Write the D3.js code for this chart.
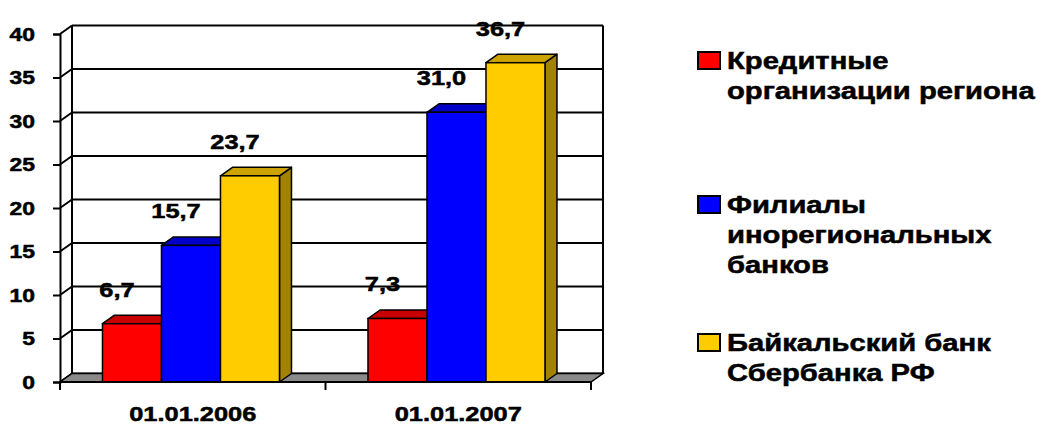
<!DOCTYPE html>
<html>
<head>
<meta charset="utf-8">
<script src="https://cdn.jsdelivr.net/npm/d3@7"></script>
<style>
  html, body { margin: 0; padding: 0; background: #fff; }
  svg { display: block; font-family: "Liberation Sans", Arial, sans-serif; font-weight: bold; }
  svg text { stroke: #000; stroke-width: 0.5px; }
</style>
</head>
<body>
<div id="chart"></div>
<script>
// 3D clustered columns, values per date
const CATEGORIES = ["01.01.2006", "01.01.2007"];
const SERIES = [
  "Кредитные организации региона",
  "Филиалы инорегиональных банков",
  "Байкальский банк Сбербанка РФ",
];
const LEGEND_LINES = [
  ["Кредитные", "организации региона"],
  ["Филиалы", "инорегиональных", "банков"],
  ["Байкальский банк", "Сбербанка РФ"],
];
const VALUES_2006 = [6.7, 15.7, 23.7];
const VALUES_2007 = [7.3, 31.0, 36.7];
const Y_TICKS = [0, 5, 10, 15, 20, 25, 30, 35, 40];

// front / top / side shades for each series
const FACES = [
  { front: "#ff0000", top: "#c80000", side: "#a00000" },
  { front: "#0000ff", top: "#0000c8", side: "#0000a0" },
  { front: "#ffcc00", top: "#cca300", side: "#a38200" },
];

const rows = CATEGORIES.map((c, i) => ({
  cat: c,
  values: [VALUES_2006, VALUES_2007][i],
}));

/* ── Layout ── */
const totalW = 1050, totalH = 425;
const plot = { left: 60, right: 591, bottom: 382, top: 34 };
const depth = { dx: 12, dy: -8.5 };
const SX = 1.27;            // text in the picture is drawn wide
const fmt = v => d3.format(".1f")(v).replace(".", ",");

const svg = d3.select("#chart").append("svg")
  .attr("width", totalW).attr("height", totalH);

function wideText(sel, x, y, str, size, anchor) {
  return sel.append("text")
    .attr("transform", `translate(${x},${y}) scale(${SX},1)`)
    .attr("font-size", size)
    .attr("text-anchor", anchor)
    .attr("fill", "#000")
    .text(str);
}

/* ── Scales ── */
const y = d3.scaleLinear().domain([0, 40]).range([plot.bottom, plot.top]);
const xCat = d3.scaleBand().domain(CATEGORIES).range([plot.left, plot.right]);
const xSer = d3.scaleBand().domain(SERIES).range([0, xCat.bandwidth()])
  .paddingInner(0).paddingOuter(0.75).align(0.48);

/* ── Back wall & grid ── */
const back = svg.append("g");
const bx0 = plot.left + depth.dx, bx1 = plot.right + depth.dx;

Y_TICKS.forEach(t => {
  back.append("line")
    .attr("x1", bx0).attr("x2", bx1)
    .attr("y1", y(t) + depth.dy).attr("y2", y(t) + depth.dy)
    .attr("stroke", "#000").attr("stroke-width", 2);
  back.append("line")
    .attr("x1", plot.left).attr("x2", bx0)
    .attr("y1", y(t)).attr("y2", y(t) + depth.dy)
    .attr("stroke", "#000").attr("stroke-width", 2);
});
[bx0, bx1].forEach(x => {
  back.append("line")
    .attr("x1", x).attr("x2", x)
    .attr("y1", y(40) + depth.dy).attr("y2", y(0) + depth.dy)
    .attr("stroke", "#000").attr("stroke-width", 2);
});

/* ── Floor ── */
svg.append("polygon")
  .attr("points", [
    [plot.left, y(0)], [plot.right, y(0)],
    [bx1, y(0) + depth.dy], [bx0, y(0) + depth.dy],
  ].join(" "))
  .attr("fill", "#8a8a8a").attr("stroke", "#000").attr("stroke-width", 1.5);

/* ── Bars ── */
const bars = svg.append("g");
rows.forEach(r => {
  r.values.forEach((v, i) => {
    const x0 = xCat(r.cat) + xSer(SERIES[i]);
    const w = xSer.bandwidth();
    const yt = y(v), yb = y(0);
    const c = FACES[i];
    bars.append("polygon")
      .attr("points", [[x0 + w, yb], [x0 + w + depth.dx, yb + depth.dy],
        [x0 + w + depth.dx, yt + depth.dy], [x0 + w, yt]].join(" "))
      .attr("fill", c.side).attr("stroke", "#000").attr("stroke-width", 1.5)
      .attr("stroke-linejoin", "round");
    bars.append("polygon")
      .attr("points", [[x0, yt], [x0 + depth.dx, yt + depth.dy],
        [x0 + w + depth.dx, yt + depth.dy], [x0 + w, yt]].join(" "))
      .attr("fill", c.top).attr("stroke", "#000").attr("stroke-width", 1.5)
      .attr("stroke-linejoin", "round");
    bars.append("rect")
      .attr("x", x0).attr("y", yt).attr("width", w).attr("height", yb - yt)
      .attr("fill", c.front).attr("stroke", "#000").attr("stroke-width", 1.5);
  });
});

/* ── Value labels ── */
const labels = svg.append("g");
rows.forEach(r => {
  r.values.forEach((v, i) => {
    const cx = xCat(r.cat) + xSer(SERIES[i]) + xSer.bandwidth() / 2;
    wideText(labels, cx - 15, y(v) - 27, fmt(v), 20, "middle");
  });
});

/* ── Axes ── */
const yAxis = svg.append("g")
  .attr("transform", `translate(${plot.left},0)`)
  .call(d3.axisLeft(y).tickValues(Y_TICKS).tickSize(7).tickFormat(d3.format("d")));
yAxis.select(".domain").attr("stroke", "#000").attr("stroke-width", 2);
yAxis.selectAll(".tick line").attr("stroke", "#000").attr("stroke-width", 2);
yAxis.selectAll(".tick text")
  .attr("x", null).attr("dy", "0.36em")
  .attr("transform", `translate(-25,0) scale(${SX},1)`)
  .attr("font-size", 18).attr("font-family", null).attr("fill", "#000");

const xAxis = svg.append("g");
xAxis.append("line")
  .attr("x1", plot.left).attr("x2", plot.right)
  .attr("y1", y(0)).attr("y2", y(0))
  .attr("stroke", "#000").attr("stroke-width", 2);
d3.range(CATEGORIES.length + 1).forEach(i => {
  const x = plot.left + i * xCat.step();
  xAxis.append("line")
    .attr("x1", x).attr("x2", x).attr("y1", y(0)).attr("y2", y(0) + 8)
    .attr("stroke", "#000").attr("stroke-width", 2);
});
CATEGORIES.forEach(c => {
  wideText(xAxis, xCat(c) + xCat.bandwidth() / 2, 421, c, 20, "middle");
});

/* ── Legend ── */
const legend = svg.append("g");
const LEGEND_FIRST_BASELINE = [69, 213, 351];
const lineH = 30;
LEGEND_LINES.forEach((lines, i) => {
  const by = LEGEND_FIRST_BASELINE[i];
  legend.append("rect")
    .attr("x", 698).attr("y", by - 17).attr("width", 22).attr("height", 17)
    .attr("fill", FACES[i].front).attr("stroke", "#000").attr("stroke-width", 2);
  lines.forEach((t, j) => {
    wideText(legend, 727, by + j * lineH, t, 23, "start");
  });
});
</script>
</body>
</html>
